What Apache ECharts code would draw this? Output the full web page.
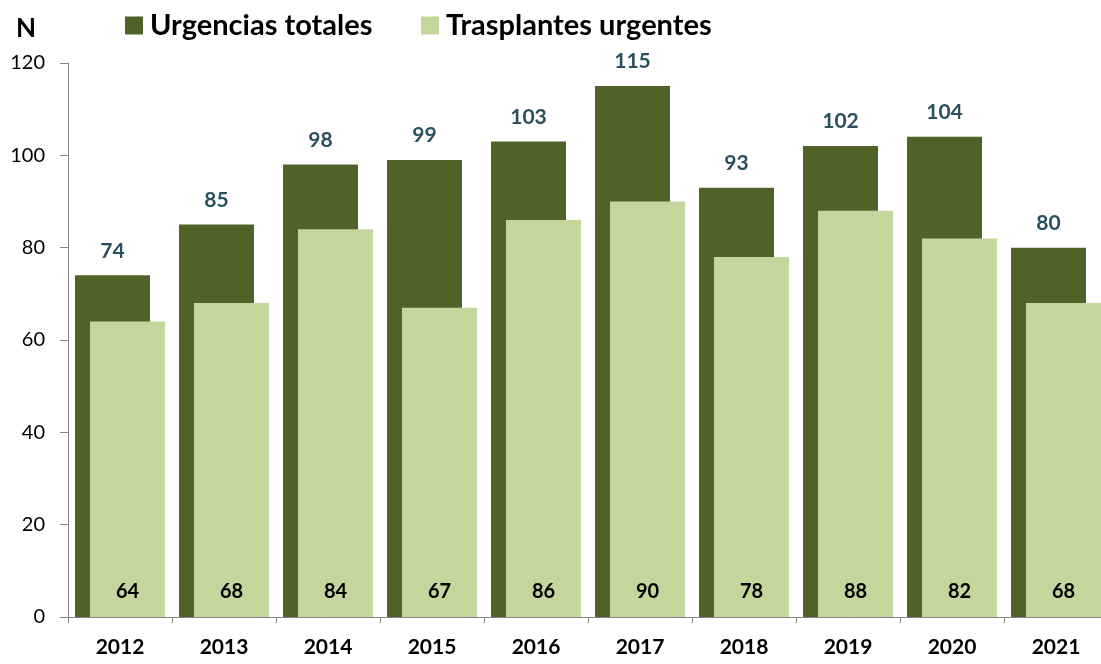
<!DOCTYPE html>
<html>
<head>
<meta charset="utf-8">
<script src="https://cdn.jsdelivr.net/npm/echarts@6/dist/echarts.min.js"></script>
<style>
  html, body { margin: 0; padding: 0; background: #fff; overflow: hidden; }
  #chart { width: 1108px; height: 664px; }
</style>
</head>
<body>
<div id="chart"></div>
<script>
// Yearly urgent cases vs. urgent transplants
const years = ['2012', '2013', '2014', '2015', '2016', '2017', '2018', '2019', '2020', '2021'];
const urgenciasTotales = [74, 85, 98, 99, 103, 115, 93, 102, 104, 80];
const trasplantesUrgentes = [64, 68, 84, 67, 86, 90, 78, 88, 82, 68];
const yTicks = [0, 20, 40, 60, 80, 100, 120];

const FONT = 'Lato, "Open Sans", sans-serif';
const chart = echarts.init(document.getElementById('chart'));

// shared legend look; each entry is placed on its own
const legendBase = {
  top: 6,
  itemWidth: 18,
  itemHeight: 18,
  icon: 'rect',
  textStyle: { fontFamily: FONT, fontSize: 29, fontWeight: 'bold', color: '#000', padding: [0, 0, 0, 2] }
};

chart.setOption({
  animation: false,
  textStyle: { fontFamily: FONT },
  title: {
    text: 'N',
    left: 11,
    top: 11,
    textStyle: { fontFamily: FONT, fontSize: 26, fontWeight: 'bold', color: '#000' }
  },
  legend: [
    Object.assign({}, legendBase, { left: 120, data: ['Urgencias totales'] }),
    Object.assign({}, legendBase, { left: 416, data: ['Trasplantes urgentes'] })
  ],
  grid: { left: 68, right: 0, top: 63, bottom: 47, containLabel: false },
  xAxis: {
    type: 'category',
    data: years,
    axisLine: { show: true, lineStyle: { color: '#868686', width: 1 } },
    axisTick: { show: true, length: 6, alignWithLabel: false, lineStyle: { color: '#868686' } },
    axisLabel: { fontFamily: FONT, fontSize: 21, fontWeight: 'bold', color: '#000', margin: 20 }
  },
  yAxis: {
    type: 'value',
    min: yTicks[0],
    max: yTicks[yTicks.length - 1],
    interval: 20,
    splitLine: { show: false },
    axisLine: { show: true, lineStyle: { color: '#868686', width: 1 } },
    axisTick: { show: true, length: 8, lineStyle: { color: '#868686' } },
    axisLabel: { fontFamily: FONT, fontSize: 20, color: '#000', margin: 23 }
  },
  series: [
    {
      name: 'Urgencias totales',
      type: 'bar',
      data: urgenciasTotales,
      barGap: '-80%',
      barCategoryGap: '13.5%',
      itemStyle: { color: '#4F6228' },
      label: {
        show: true,
        position: 'top',
        distance: 14,
        fontFamily: FONT,
        fontSize: 21,
        fontWeight: 'bold',
        color: '#2A4F5E'
      }
    },
    {
      name: 'Trasplantes urgentes',
      type: 'bar',
      data: trasplantesUrgentes,
      barGap: '-80%',
      barCategoryGap: '13.5%',
      itemStyle: { color: '#C3D69B' },
      label: {
        show: true,
        position: 'insideBottom',
        distance: 15,
        fontFamily: FONT,
        fontSize: 20,
        fontWeight: 'bold',
        color: '#000'
      }
    }
  ]
});
</script>
</body>
</html>
